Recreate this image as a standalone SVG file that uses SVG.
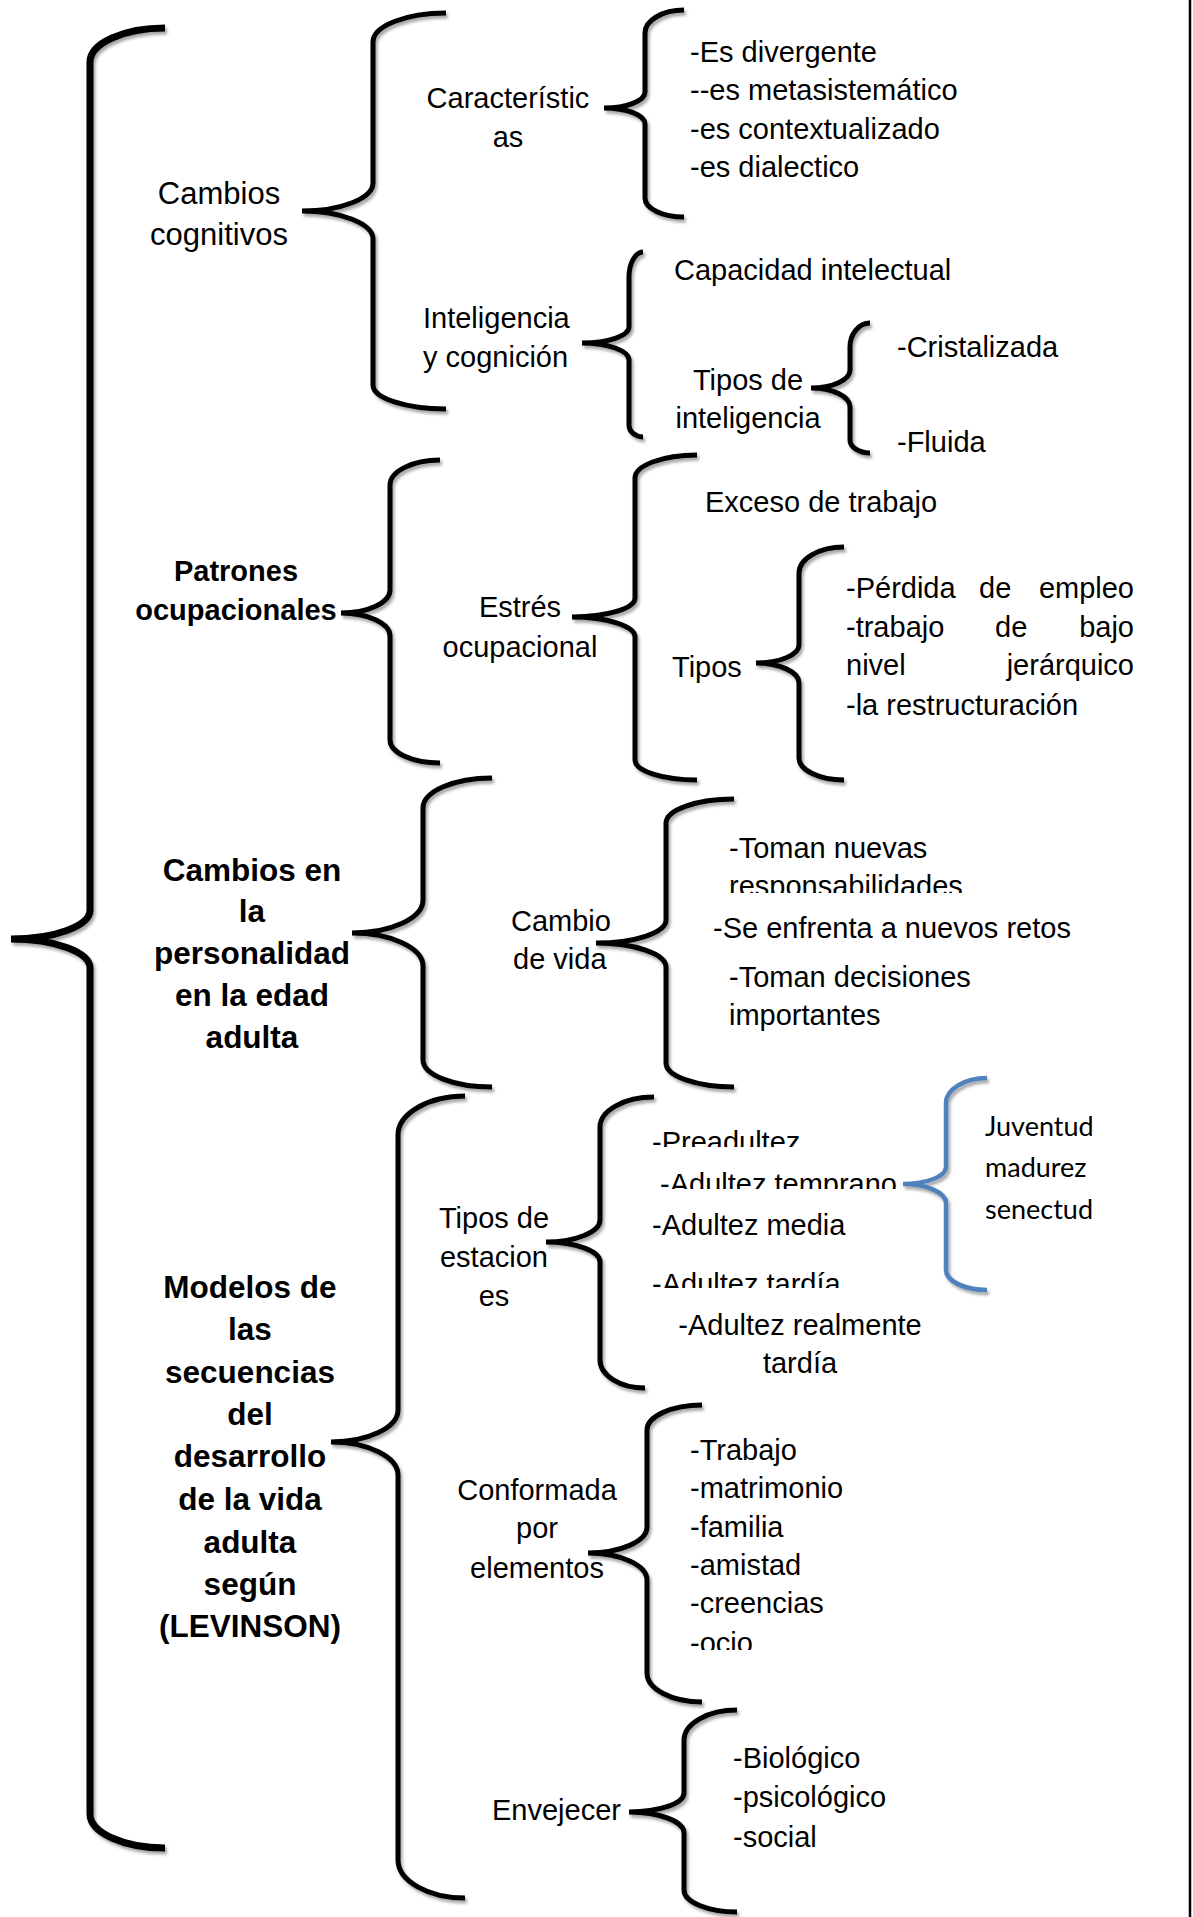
<svg xmlns="http://www.w3.org/2000/svg" width="1193" height="1917" viewBox="0 0 1193 1917">
<style>
.t{font-family:"Liberation Sans",Arial,sans-serif;font-size:29px;fill:#000}
.b{font-weight:bold;font-size:31.5px}
.c{text-anchor:middle}
.e{text-anchor:end}
.cal{font-family:Lato,"Open Sans",sans-serif;font-size:27px;fill:#000}
.br{fill:none;stroke:#000;stroke-width:5;filter:url(#sh)}
.main{stroke-width:7}
.blue{stroke:#4f81bd;stroke-width:4.5}
</style>
<defs>
<filter id="sh" x="-50%" y="-10%" width="200%" height="120%">
<feDropShadow dx="2" dy="3" stdDeviation="1.5" flood-color="#000" flood-opacity="0.35"/>
</filter>
<clipPath id="cpResp"><rect x="700" y="860" width="400" height="33"/></clipPath>
<clipPath id="cpPre"><rect x="640" y="1120" width="300" height="27"/></clipPath>
<clipPath id="cpTemp"><rect x="640" y="1160" width="300" height="29"/></clipPath>
<clipPath id="cpTard"><rect x="640" y="1260" width="300" height="28"/></clipPath>
<clipPath id="cpOcio"><rect x="680" y="1620" width="200" height="30"/></clipPath>
</defs>
<rect width="1193" height="1917" fill="#fff"/>
<line x1="1190" y1="0" x2="1190" y2="1917" stroke="#000" stroke-width="2.5"/>

<g id="connectors">
<path class="br main" d="M165,28 C123.75,28 90,43.3 90,62 L90,910 C90,926 54.5,939 11,939 C54.5,939 90,952 90,968 L90,1814 C90,1832.7 123.75,1848 165,1848"/>
<path class="br" d="M446,13 C405.9,13 373,26 373,42 L373,183 C373,198.4 341,211 302,211 C341,211 373,223.6 373,239 L373,385 C373,398.2 405.9,409 446,409"/>
<path class="br" d="M440,460 C412.5,460 390,471.3 390,485 L390,590 C390,602.7 368,613 341,613 C368,613 390,623.4 390,636 L390,740 C390,752.7 412.5,763 440,763"/>
<path class="br" d="M492,778 C454,778 423,791.5 423,808 L423,900 C423,918.2 391,933 352,933 C391,933 423,947.8 423,966 L423,1060 C423,1074.9 454,1087 492,1087"/>
<path class="br" d="M465,1096 C428.2,1096 398,1113.6 398,1135 L398,1410 C398,1427.6 367.9,1442 331,1442 C367.9,1442 398,1456.9 398,1475 L398,1860 C398,1880.9 428.2,1898 465,1898"/>
<path class="br" d="M684,10 C662.6,10 645,20.4 645,33 L645,92 C645,100.8 626.6,108 604,108 C626.6,108 645,115.2 645,124 L645,198 C645,208.5 662.6,217 684,217"/>
<path class="br" d="M643,252 C635.3,252 629,263.3 629,277 L629,327 C629,335.8 607.9,343 582,343 C607.9,343 629,350.7 629,360 L629,425 C629,431.6 635.3,437 643,437"/>
<path class="br" d="M870,323 C859,323 850,333.8 850,347 L850,370 C850,379.9 832.5,388 811,388 C832.5,388 850,396.6 850,407 L850,440 C850,447.2 859,453 870,453"/>
<path class="br" d="M697,455 C662.9,455 635,465.4 635,478 L635,598 C635,608.5 606.7,617 572,617 C606.7,617 635,626 635,637 L635,760 C635,771 662.9,780 697,780"/>
<path class="br" d="M844,547 C819.3,547 799,558.7 799,573 L799,645 C799,654.9 779.7,663 756,663 C779.7,663 799,672 799,683 L799,758 C799,770.1 819.3,780 844,780"/>
<path class="br" d="M734,799 C696.6,799 666,809.8 666,823 L666,920 C666,932.7 634.5,943 596,943 C634.5,943 666,953.8 666,967 L666,1063 C666,1076.2 696.6,1087 734,1087"/>
<path class="br" d="M654,1097 C624.3,1097 600,1110.5 600,1127 L600,1220 C600,1232.1 575.7,1242 546,1242 C575.7,1242 600,1251 600,1262 L600,1360 C600,1375.4 620.3,1388 645,1388"/>
<path class="br blue" d="M987,1078 C964.5,1078 946,1089.3 946,1103 L946,1167 C946,1176.4 926.7,1184 903,1184 C926.7,1184 946,1192.6 946,1203 L946,1270 C946,1281 964.5,1290 987,1290"/>
<path class="br" d="M702,1405 C671.8,1405 647,1416.3 647,1430 L647,1527 C647,1541.3 620.5,1553 588,1553 C620.5,1553 647,1565.2 647,1580 L647,1673 C647,1689 671.8,1702 702,1702"/>
<path class="br" d="M737,1710 C707.9,1710 684,1723.5 684,1740 L684,1793 C684,1803.5 659.3,1812 629,1812 C659.3,1812 684,1821.5 684,1833 L684,1890 C684,1902.1 707.9,1912 737,1912"/>
</g>

<g id="cambios-cognitivos"><text class="t c" style="font-size:31px"><tspan x="219" y="204">Cambios</tspan><tspan x="219" y="245">cognitivos</tspan></text></g>
<g id="caracteristicas"><text class="t c"><tspan x="508" y="108">Característic</tspan><tspan x="508" y="147">as</tspan></text></g>
<g id="caracteristicas-items"><text class="t"><tspan x="690" y="62">-Es divergente</tspan><tspan x="690" y="100">--es metasistemático</tspan><tspan x="690" y="139">-es contextualizado</tspan><tspan x="690" y="177">-es dialectico</tspan></text></g>
<g id="inteligencia"><text class="t"><tspan x="423" y="328">Inteligencia</tspan><tspan x="423" y="367">y cognición</tspan></text></g>
<g id="capacidad"><text class="t" x="674" y="280">Capacidad intelectual</text></g>
<g id="tipos-inteligencia"><text class="t c"><tspan x="748" y="390">Tipos de</tspan><tspan x="748" y="428">inteligencia</tspan></text></g>
<g id="cristalizada"><text class="t" x="897" y="357">-Cristalizada</text></g>
<g id="fluida"><text class="t" x="897" y="452">-Fluida</text></g>

<g id="patrones"><text class="t c" style="font-weight:bold"><tspan x="236" y="581">Patrones</tspan><tspan x="236" y="620">ocupacionales</tspan></text></g>
<g id="estres"><text class="t c"><tspan x="520" y="617">Estrés</tspan><tspan x="520" y="657">ocupacional</tspan></text></g>
<g id="exceso"><text class="t" x="705" y="512">Exceso de trabajo</text></g>
<g id="tipos"><text class="t" x="672" y="677">Tipos</text></g>
<g id="tipos-items">
<text class="t" x="846" y="598">-Pérdida</text><text class="t" x="979" y="598">de</text><text class="t e" x="1134" y="598">empleo</text>
<text class="t" x="846" y="637">-trabajo</text><text class="t" x="995" y="637">de</text><text class="t e" x="1134" y="637">bajo</text>
<text class="t" x="846" y="675">nivel</text><text class="t e" x="1134" y="675">jerárquico</text>
<text class="t" x="846" y="715">-la restructuración</text>
</g>

<g id="personalidad"><text class="t b c"><tspan x="252" y="881">Cambios en</tspan><tspan x="252" y="922">la</tspan><tspan x="252" y="964">personalidad</tspan><tspan x="252" y="1006">en la edad</tspan><tspan x="252" y="1048">adulta</tspan></text></g>
<g id="cambio-vida"><text class="t"><tspan x="511" y="931">Cambio</tspan><tspan x="513" y="969">de vida</tspan></text></g>
<g id="cambio-vida-items">
<text class="t" x="729" y="858">-Toman nuevas</text>
<text class="t" x="729" y="896" clip-path="url(#cpResp)">responsabilidades</text>
<text class="t" x="713" y="938">-Se enfrenta a nuevos retos</text>
<text class="t" x="729" y="987">-Toman decisiones</text>
<text class="t" x="729" y="1025">importantes</text>
</g>

<g id="modelos"><text class="t b c"><tspan x="250" y="1298">Modelos de</tspan><tspan x="250" y="1340">las</tspan><tspan x="250" y="1383">secuencias</tspan><tspan x="250" y="1425">del</tspan><tspan x="250" y="1467">desarrollo</tspan><tspan x="250" y="1510">de la vida</tspan><tspan x="250" y="1553">adulta</tspan><tspan x="250" y="1595">según</tspan><tspan x="250" y="1637">(LEVINSON)</tspan></text></g>
<g id="tipos-estaciones"><text class="t c"><tspan x="494" y="1228">Tipos de</tspan><tspan x="494" y="1267">estacion</tspan><tspan x="494" y="1306">es</tspan></text></g>
<g id="estaciones-items">
<text class="t" x="652" y="1152" clip-path="url(#cpPre)">-Preadultez</text>
<text class="t" x="660" y="1194" clip-path="url(#cpTemp)">-Adultez temprano</text>
<text class="t" x="652" y="1235">-Adultez media</text>
<text class="t" x="652" y="1294" clip-path="url(#cpTard)">-Adultez tardía</text>
<text class="t c"><tspan x="800" y="1335">-Adultez realmente</tspan><tspan x="800" y="1373">tardía</tspan></text>
</g>
<g id="etapas"><text class="cal"><tspan x="985" y="1136">Juventud</tspan><tspan x="985" y="1177">madurez</tspan><tspan x="985" y="1219">senectud</tspan></text></g>
<g id="conformada"><text class="t c"><tspan x="537" y="1500">Conformada</tspan><tspan x="537" y="1538">por</tspan><tspan x="537" y="1578">elementos</tspan></text></g>
<g id="elementos-items">
<text class="t"><tspan x="690" y="1460">-Trabajo</tspan><tspan x="690" y="1498">-matrimonio</tspan><tspan x="690" y="1537">-familia</tspan><tspan x="690" y="1575">-amistad</tspan><tspan x="690" y="1613">-creencias</tspan></text>
<text class="t" x="690" y="1653" clip-path="url(#cpOcio)">-ocio</text>
</g>
<g id="envejecer"><text class="t" x="492" y="1820">Envejecer</text></g>
<g id="envejecer-items"><text class="t"><tspan x="733" y="1768">-Biológico</tspan><tspan x="733" y="1807">-psicológico</tspan><tspan x="733" y="1847">-social</tspan></text></g>
</svg>
